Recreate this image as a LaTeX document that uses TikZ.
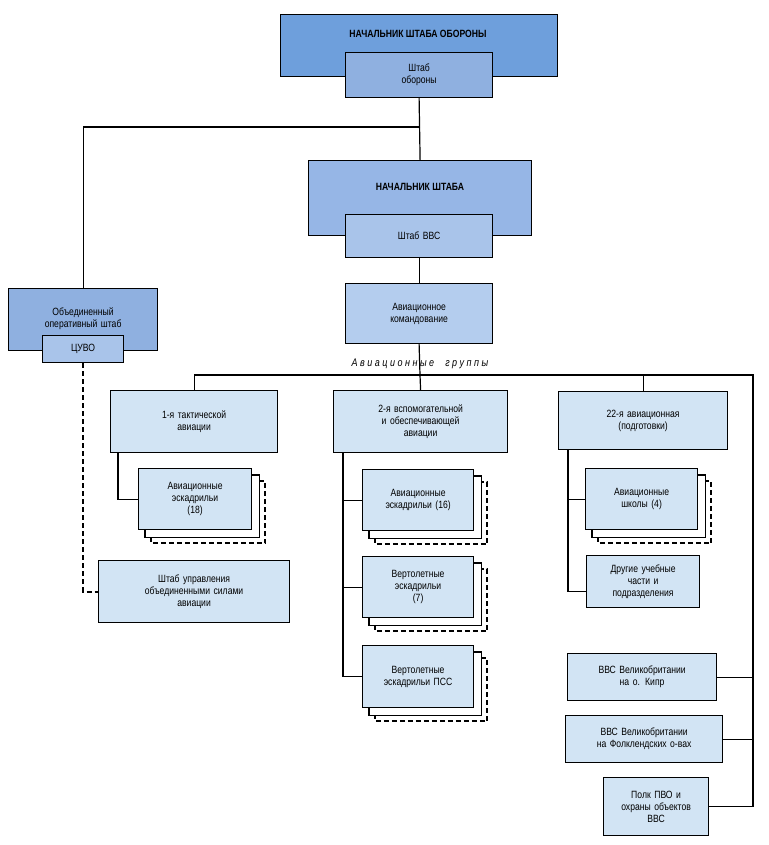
\documentclass[tikz,border=0pt]{standalone}
\usepackage{fontspec}
\setmainfont{Liberation Sans}[FakeStretch=0.82]
\usetikzlibrary{backgrounds}
\definecolor{cA}{HTML}{6E9FDC}
\definecolor{cB}{HTML}{96B6E6}
\definecolor{cC}{HTML}{8FB0E0}
\definecolor{cD}{HTML}{A9C4EA}
\definecolor{cE}{HTML}{B4CDEE}
\definecolor{cL}{HTML}{D2E4F4}
\tikzset{
  box/.style={draw=black, line width=1.2pt, align=center, inner sep=1pt, font=\fontsize{10.5}{12}\selectfont},
  ln/.style={line width=1.2pt},
  dl/.style={line width=1.8pt, dash pattern=on 5pt off 3pt},
}
% \bx{name}{x1}{y1}{x2}{y2}{fill}{text}
\newcommand{\bx}[7]{%
  \pgfmathsetmacro{\bw}{#4-#2}\pgfmathsetmacro{\bh}{#5-#3}%
  \node[box, fill=#6, minimum width=\bw pt, minimum height=\bh pt, text width=\bw pt-4pt, anchor=north west] (#1) at (#2,#3) {#7};}
\newcommand{\stk}[1]{%
  \begin{pgfonlayer}{background}
  \draw[dl, fill=white] ([shift={(13pt,-13pt)}]#1.north west) rectangle ([shift={(13pt,-13pt)}]#1.south east);
  \draw[ln, fill=white] ([shift={(7pt,-7pt)}]#1.north west) rectangle ([shift={(7pt,-7pt)}]#1.south east);
  \end{pgfonlayer}}
\begin{document}
\begin{tikzpicture}[x=1pt,y=-1pt]
\useasboundingbox (0,0) rectangle (768,845);
% top
\node[box, fill=cA, minimum width=277pt, minimum height=62pt, anchor=north west, font=\fontsize{10.5}{12}\selectfont\bfseries] (cgs) at (280,14) {};
\node[font=\fontsize{10.5}{12}\selectfont\bfseries] (cgst) at (418,34) {НАЧАЛЬНИК ШТАБА ОБОРОНЫ};
\bx{ds}{345}{52}{492}{97}{cC}{Штаб\\обороны}
\node[box, fill=cB, minimum width=223pt, minimum height=75pt, anchor=north west] (cas) at (308,160) {};
\node[font=\fontsize{10.5}{12}\selectfont\bfseries] (cast) at (420,187) {НАЧАЛЬНИК ШТАБА};
\bx{as}{345}{214}{492}{257}{cD}{Штаб ВВС}
\bx{ac}{345}{283}{492}{343}{cE}{Авиационное\\командование}
% left
\bx{ob}{8}{288}{157}{350}{cC}{\\[-6pt]Объединенный\\оперативный штаб\\[14pt]}
\bx{cuvo}{42}{335}{123}{362}{cD}{ЦУВО}
\bx{shu}{98}{560}{289}{622}{cL}{Штаб управления\\объединенными силами\\авиации}
% groups
\node[font=\fontsize{11}{12}\selectfont\itshape] (lbl) at (420,364) {А в и а ц и о н н ы е\quad г р у п п ы};
\bx{g1}{110}{390}{277}{452}{cL}{1-я тактической\\авиации}
\bx{g2}{333}{390}{507}{452}{cL}{2-я вспомогательной\\и обеспечивающей\\авиации}
\bx{g3}{558}{391}{727}{449}{cL}{22-я авиационная\\(подготовки)}
% children
\bx{e18}{138}{468}{251}{529}{cL}{Авиационные\\эскадрильи\\(18)}
\bx{e16}{362}{469}{473}{530}{cL}{Авиационные\\эскадрильи (16)}
\bx{v7}{362}{556}{473}{617}{cL}{Вертолетные\\эскадрильи\\(7)}
\bx{vp}{362}{645}{473}{707}{cL}{Вертолетные\\эскадрильи ПСС}
\bx{sc}{585}{468}{697}{529}{cL}{Авиационные\\школы (4)}
\bx{dr}{586}{555}{699}{607}{cL}{Другие учебные\\части и\\подразделения}
\bx{kp}{567}{653}{716}{700}{cL}{ВВС Великобритании\\на о. Кипр}
\bx{fk}{565}{715}{722}{762}{cL}{ВВС Великобритании\\на Фолклендских о-вах}
\bx{pk}{603}{777}{708}{835}{cL}{Полк ПВО и\\охраны объектов\\ВВС}
\stk{e18}\stk{e16}\stk{v7}\stk{vp}\stk{sc}
% connectors
\coordinate (j1) at (420,127);
\coordinate (bus) at (420,375);
\coordinate (rb) at (753,375);
\begin{pgfonlayer}{background}
\draw[ln] (ds.south) -- (cas.north);
\draw[ln] (j1) -| (ob.north);
\draw[ln] (as.south) -- (ac.north);
\draw[ln] (ac.south) -- (bus);
\draw[ln] (g1.north) |- (rb) |- (pk.east);
\draw[ln] (g2.north) -- (bus);
\draw[ln] (g3.north) -- (g3.north |- rb);
\draw[ln] (kp.east) -- (kp.east -| rb);
\draw[ln] (fk.east) -- (fk.east -| rb);
\draw[dl] (cuvo.south) |- (shu.west);
\draw[ln] ([xshift=8pt]g1.south west) |- (e18.west);
\draw[ln] ([xshift=10pt]g2.south west) |- (vp.west);
\draw[ln] ([xshift=10pt]g2.south west |- e16.west) -- (e16.west);
\draw[ln] ([xshift=10pt]g2.south west |- v7.west) -- (v7.west);
\draw[ln] ([xshift=10pt]g3.south west) |- ([yshift=-10pt]dr.west);
\draw[ln] ([xshift=10pt]g3.south west |- sc.west) -- (sc.west);
\end{pgfonlayer}
\end{tikzpicture}
\end{document}
